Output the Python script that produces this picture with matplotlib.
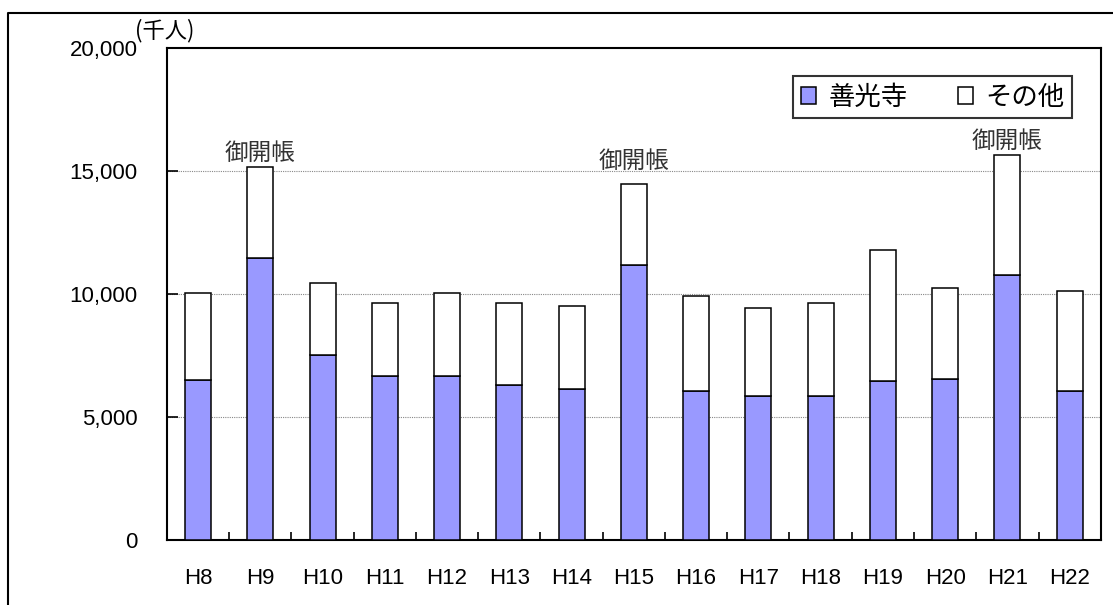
import matplotlib
matplotlib.use('Agg')
import matplotlib.pyplot as plt
from matplotlib.patches import Patch
from matplotlib.lines import Line2D
from matplotlib.ticker import FuncFormatter

plt.rcParams['font.family'] = ['Noto Sans CJK JP', 'DejaVu Sans']

# visitors (thousand people) per year
years = ['H8', 'H9', 'H10', 'H11', 'H12', 'H13', 'H14', 'H15',
         'H16', 'H17', 'H18', 'H19', 'H20', 'H21', 'H22']
zenkoji = [6520, 11460, 7530, 6680, 6670, 6320, 6130, 11180,
           6060, 5840, 5860, 6470, 6530, 10780, 6070]
total = [10050, 15180, 10460, 9640, 10040, 9640, 9520, 14480,
         9910, 9430, 9650, 11800, 10240, 15630, 10120]
others = [t - z for t, z in zip(total, zenkoji)]

# years with a gokaicho (special exhibition) marked above the bar
gokaicho = ['H9', 'H15', 'H21']
label_gap = {'H9': 1, 'H15': 8, 'H21': 2}   # points above bar top

fig = plt.figure(figsize=(11.13, 6.05), dpi=100)
ax = fig.add_axes([0.150, 0.1074, 0.839, 0.8133])

x = list(range(len(years)))
ax.bar(x, zenkoji, width=0.42, color='#9999FF', edgecolor='black',
       linewidth=1.1, zorder=3)
ax.bar(x, others, width=0.42, bottom=zenkoji, color='white',
       edgecolor='black', linewidth=1.1, zorder=3)

for name in gokaicho:
    i = years.index(name)
    ax.annotate('御開帳', (i, total[i]), xytext=(0, label_gap[name]),
                textcoords='offset points', ha='center', va='bottom',
                fontsize=17, color='#333333')

ax.set_xlim(-0.5, len(years) - 0.5)
ax.set_ylim(0, 20000)
ax.set_yticks([0, 5000, 10000, 15000, 20000])
ax.yaxis.set_major_formatter(FuncFormatter(lambda v, p: f'{int(v):,}'))
ax.set_xticks(x)
ax.set_xticklabels(years)
ax.set_xticks([i + 0.5 for i in x[:-1]], minor=True)

ax.tick_params(axis='y', direction='in', length=8, width=1.2,
               labelsize=16, pad=21)
ax.tick_params(axis='x', which='major', length=0, labelsize=16, pad=20)
ax.tick_params(axis='x', which='minor', direction='in', length=6, width=1.2)
for lab in ax.get_xticklabels() + ax.get_yticklabels():
    lab.set_fontfamily('Liberation Sans')

for v in [5000, 10000, 15000]:
    ax.axhline(v, color='#888888', linestyle=(0, (1, 1)), linewidth=0.8,
               zorder=1)

for s in ax.spines.values():
    s.set_linewidth(1.5)

fig.text(0.121, 0.950, '(千人)', fontsize=16, ha='left', va='center')

handles = [Patch(facecolor='#9999FF', edgecolor='black', linewidth=1.1),
           Patch(facecolor='white', edgecolor='black', linewidth=1.1)]
leg = fig.legend(handles, ['善光寺', 'その他'], ncol=2, loc='upper right',
                 bbox_to_anchor=(0.963, 0.874), bbox_transform=fig.transFigure,
                 fontsize=19, frameon=True, fancybox=False, borderaxespad=0,
                 handlelength=0.6, handleheight=0.6, handletextpad=0.45,
                 columnspacing=1.9, borderpad=0.28)
leg.get_frame().set_edgecolor('black')
leg.get_frame().set_linewidth(1.5)

# outer frame (left and top edges)
fig.add_artist(Line2D([0.0072, 0.0072, 1.0], [0.0, 0.9785, 0.9785],
                      transform=fig.transFigure, color='black', linewidth=1.5))

fig.savefig('out.png', dpi=100)
